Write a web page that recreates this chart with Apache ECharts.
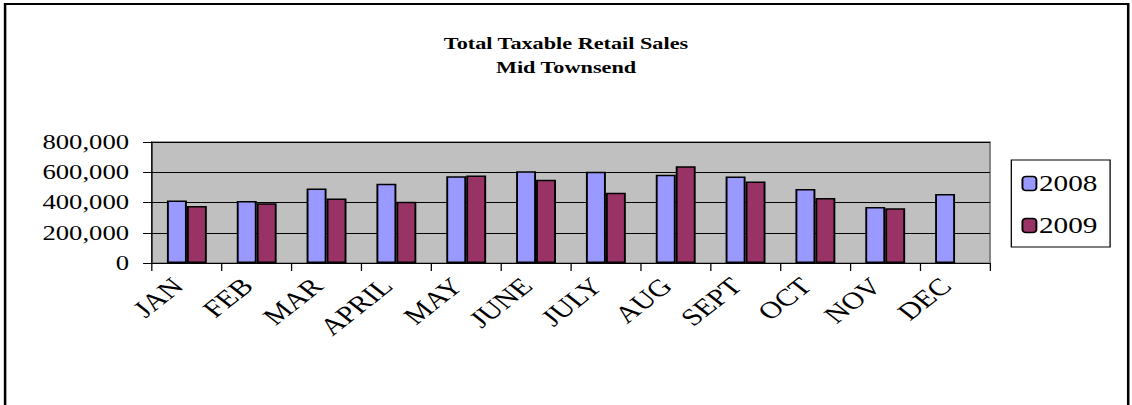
<!DOCTYPE html>
<html>
<head>
<meta charset="utf-8">
<script src="https://cdn.jsdelivr.net/npm/echarts@6/dist/echarts.min.js"></script>
<style>
html,body{margin:0;padding:0;background:#fff;overflow:hidden;width:1132px;height:405px;}
#chart{width:891px;height:405px;transform:scaleX(1.2705);transform-origin:0 0;}
</style>
</head>
<body>
<div id="chart"></div>
<script>
var months = ['JAN','FEB','MAR','APRIL','MAY','JUNE','JULY','AUG','SEPT','OCT','NOV','DEC'];
var sales2008 = [414000, 410000, 493000, 524000, 574000, 607000, 603000, 583000, 572000, 489000, 370000, 456000];
var sales2009 = [377000, 395000, 427000, 405000, 579000, 550000, 465000, 640000, 539000, 430000, 362000, null];
var yTicks = [0, 200000, 400000, 600000, 800000];
var titleLines = ['Total Taxable Retail Sales', 'Mid Townsend'];

var serif = "'Liberation Serif', 'Times New Roman', serif";
var chart = echarts.init(document.getElementById('chart'), null, {renderer: 'svg'});

function fmt(v) { return String(v).replace(/\B(?=(\d{3})+(?!\d))/g, ','); }

chart.setOption({
  animation: false,
  backgroundColor: '#ffffff',
  title: {
    text: titleLines.join('\n'),
    left: 'center',
    top: 26,
    textStyle: {fontFamily: serif, fontWeight: 'bold', fontSize: 17.5, lineHeight: 24, color: '#000'}
  },
  graphic: [{
    type: 'rect',
    shape: {x: 4, y: 4, width: 884, height: 420},
    style: {fill: 'none', stroke: '#000', lineWidth: 2},
    silent: true
  }],
  legend: {
    orient: 'vertical',
    left: 796,
    top: 160,
    padding: [12, 10, 10, 8],
    itemGap: 19,
    itemWidth: 11,
    itemHeight: 14,
    borderColor: '#000',
    borderWidth: 1,
    backgroundColor: '#fff',
    textStyle: {fontFamily: serif, fontSize: 23, color: '#000', padding: [0, 0, 0, -3]},
    itemStyle: {borderColor: '#000', borderWidth: 1.5},
    data: ['2008', '2009']
  },
  grid: {
    left: 119.6, right: 111.8, top: 142, bottom: 142,
    show: true,
    backgroundColor: '#c0c0c0',
    borderColor: '#808080',
    borderWidth: 1.5
  },
  xAxis: {
    type: 'category',
    data: months,
    axisLine: {show: true, lineStyle: {color: '#000', width: 1}},
    axisTick: {show: true, length: 8, lineStyle: {color: '#000'}},
    axisLabel: {rotate: 45, fontFamily: serif, fontSize: 24, color: '#000', margin: 12, interval: 0, padding: [0, 10, 0, 0]},
    splitLine: {show: false}
  },
  yAxis: {
    type: 'value',
    min: yTicks[0],
    max: yTicks[yTicks.length - 1],
    interval: yTicks[1] - yTicks[0],
    axisLine: {show: true, lineStyle: {color: '#000', width: 1}},
    axisTick: {show: true, length: 7, lineStyle: {color: '#000'}},
    axisLabel: {fontFamily: serif, fontSize: 21, color: '#000', margin: 18, formatter: fmt},
    splitLine: {show: true, lineStyle: {color: '#000', width: 1}}
  },
  series: [
    {
      name: '2008', type: 'bar', data: sales2008,
      barWidth: 15.7, barGap: '0%',
      itemStyle: {color: '#9999ff', borderColor: '#000', borderWidth: 1.5}
    },
    {
      name: '2009', type: 'bar', data: sales2009,
      barWidth: 15.7,
      itemStyle: {color: '#993366', borderColor: '#000', borderWidth: 1.5}
    }
  ]
});
</script>
</body>
</html>
